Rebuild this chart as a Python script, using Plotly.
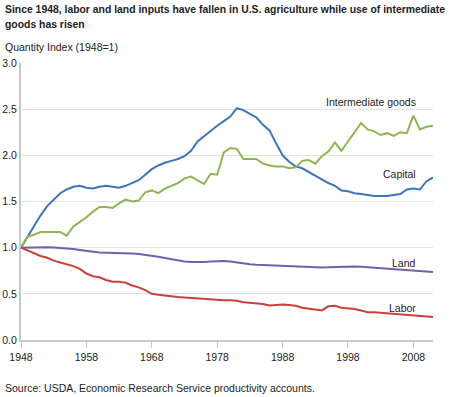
import plotly.graph_objects as go

years = list(range(1948, 2012))

capital = [1.00, 1.12, 1.24, 1.35, 1.45, 1.52, 1.59, 1.63, 1.66, 1.67,
           1.65, 1.64, 1.66, 1.67, 1.66, 1.65, 1.67, 1.70, 1.73, 1.79,
           1.85, 1.89, 1.92, 1.94, 1.96, 1.99, 2.05, 2.15, 2.21, 2.27,
           2.32, 2.37, 2.42, 2.51, 2.49, 2.45, 2.41, 2.33, 2.27, 2.13,
           2.00, 1.93, 1.88, 1.86, 1.82, 1.78, 1.74, 1.70, 1.67, 1.62,
           1.61, 1.59, 1.58, 1.57, 1.56, 1.56, 1.56, 1.57, 1.58, 1.63,
           1.64, 1.63, 1.72, 1.76]

intermediate = [1.00, 1.12, 1.14, 1.17, 1.17, 1.17, 1.17, 1.13, 1.23, 1.28,
                1.33, 1.39, 1.44, 1.44, 1.43, 1.48, 1.52, 1.50, 1.51, 1.60,
                1.62, 1.59, 1.64, 1.67, 1.70, 1.75, 1.77, 1.73, 1.69, 1.80,
                1.79, 2.03, 2.08, 2.07, 1.96, 1.96, 1.96, 1.91, 1.89, 1.88,
                1.88, 1.86, 1.87, 1.94, 1.95, 1.91, 1.99, 2.04, 2.14, 2.05,
                2.15, 2.25, 2.35, 2.28, 2.26, 2.22, 2.24, 2.21, 2.25, 2.24,
                2.43, 2.28, 2.31, 2.32]

land = [1.000, 1.002, 1.004, 1.005, 1.004, 1.002, 0.998, 0.993, 0.985, 0.975,
        0.965, 0.955, 0.948, 0.945, 0.944, 0.943, 0.942, 0.938, 0.932, 0.924,
        0.915, 0.902, 0.888, 0.874, 0.860, 0.850, 0.845, 0.843, 0.845, 0.850,
        0.855, 0.856, 0.850, 0.838, 0.828, 0.820, 0.815, 0.812, 0.810, 0.807,
        0.803, 0.800, 0.797, 0.792, 0.788, 0.785, 0.785, 0.788, 0.792, 0.796,
        0.797, 0.796, 0.792, 0.787, 0.782, 0.776, 0.770, 0.764, 0.758, 0.753,
        0.749, 0.745, 0.741, 0.737]

labor = [1.00, 0.97, 0.94, 0.91, 0.89, 0.86, 0.84, 0.82, 0.80, 0.77,
         0.72, 0.69, 0.68, 0.65, 0.63, 0.63, 0.62, 0.59, 0.57, 0.54,
         0.50, 0.49, 0.48, 0.47, 0.465, 0.46, 0.455, 0.45, 0.445, 0.44,
         0.43, 0.43, 0.43, 0.425, 0.41, 0.405, 0.40, 0.39, 0.375, 0.38,
         0.385, 0.38, 0.37, 0.35, 0.34, 0.33, 0.32, 0.365, 0.37, 0.35,
         0.345, 0.335, 0.32, 0.30, 0.30, 0.295, 0.29, 0.285, 0.28, 0.275,
         0.27, 0.265, 0.26, 0.25]

series_names = ["Capital", "Intermediate goods", "Land", "Labor"]
series_values = [capital, intermediate, land, labor]
colors = ["#3f74b9", "#8db552", "#7060aa", "#c8413b"]

x_ticks = [1948, 1958, 1968, 1978, 1988, 1998, 2008]
y_ticks = [0.0, 0.5, 1.0, 1.5, 2.0, 2.5, 3.0]

FONT = "Liberation Sans, Arial, Helvetica, sans-serif"
TXT = "#222222"

L, R, T, B = 21, 17, 63, 57
PW, PH = 450 - L - R, 397 - T - B


def px(x):
    return (x - L) / PW


def py(y):
    return (397 - B - y) / PH


fig = go.Figure()
for name, vals, c in zip(series_names, series_values, colors):
    fig.add_trace(go.Scatter(x=years, y=vals, mode="lines", name=name,
                             line=dict(color=c, width=2), showlegend=False))

fig.update_layout(
    width=450, height=397, autosize=False,
    margin=dict(l=L, r=R, t=T, b=B, pad=0),
    paper_bgcolor="white", plot_bgcolor="white",
    font=dict(family=FONT, size=10.5, color=TXT),
)

fig.update_xaxes(
    range=[1948, 2011], tickvals=x_ticks, ticktext=[str(t) for t in x_ticks],
    showgrid=False, zeroline=False, automargin=False,
    showline=True, linecolor="#c8c8c8", linewidth=2,
    ticks="outside", ticklen=6, tickcolor="#c8c8c8", tickwidth=1,
    tickfont=dict(size=10.5, color=TXT),
)
fig.update_yaxes(
    range=[0, 3.0], tickvals=y_ticks, tickformat=".1f",
    showgrid=True, gridcolor="#e3e3e3", gridwidth=1, zeroline=False,
    automargin=False,
    showline=True, linecolor="#c8c8c8", linewidth=2,
    ticks="", tickfont=dict(size=10.5, color=TXT),
)

annos = [
    ("Intermediate goods", 418, 102),
    ("Capital", 418, 174),
    ("Land", 418, 263),
    ("Labor", 418, 308),
]
for txt, xp, yp in annos:
    fig.add_annotation(text=txt, x=px(xp), y=py(yp), xref="paper", yref="paper",
                       xanchor="right", yanchor="middle", showarrow=False,
                       font=dict(size=10.5, color=TXT))

title_lines = [
    ("<b>Since 1948, labor and land inputs have fallen in U.S. agriculture while use of intermediate</b>", 10),
    ("<b>goods has risen</b>", 24),
]
for txt, yp in title_lines:
    fig.add_annotation(text=txt, x=px(3), y=py(yp), xref="paper", yref="paper",
                       xanchor="left", yanchor="middle", showarrow=False,
                       font=dict(size=10.4, color=TXT))

fig.add_annotation(text="Quantity Index (1948=1)", x=px(3), y=py(47),
                   xref="paper", yref="paper", xanchor="left", yanchor="middle",
                   showarrow=False, font=dict(size=10.5, color=TXT))
fig.add_annotation(text="Source: USDA, Economic Research Service productivity accounts.",
                   x=px(3), y=py(388), xref="paper", yref="paper",
                   xanchor="left", yanchor="middle", showarrow=False,
                   font=dict(size=10.5, color=TXT))

fig.write_html("out.html", config={"displayModeBar": False},
               post_script="document.body.style.margin='0';document.body.style.overflow='hidden';")
